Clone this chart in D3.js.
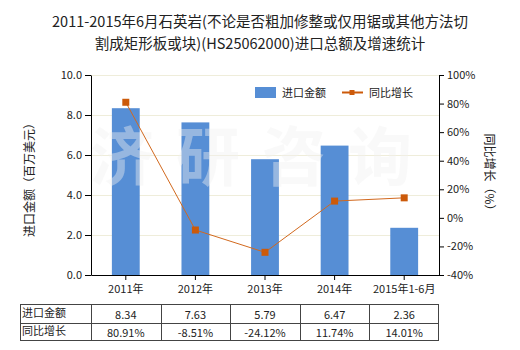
<!DOCTYPE html>
<html>
<head>
<meta charset="utf-8">
<script src="https://cdn.jsdelivr.net/npm/d3@7"></script>
<style>
  html, body { margin: 0; padding: 0; background: #fff; }
  svg { display: block; }
  text { font-family: "Microsoft YaHei", "Noto Sans CJK SC", sans-serif; fill: #222; }
</style>
</head>
<body>
<svg id="chart" width="520" height="350"></svg>
<script>
// Import value (million USD) and year-on-year growth (%) by period
const categories = ["2011年", "2012年", "2013年", "2014年", "2015年1-6月"];
const importValues = [8.34, 7.63, 5.79, 6.47, 2.36];
const growthRates = [80.91, -8.51, -24.12, 11.74, 14.01];
const leftTicks = [0, 2, 4, 6, 8, 10];
const rightTicks = [-40, -20, 0, 20, 40, 60, 80, 100];
const titleLines = [
  "2011-2015年6月石英岩(不论是否粗加修整或仅用锯或其他方法切",
  "割成矩形板或块)(HS25062000)进口总额及增速统计"
];
const seriesNames = ["进口金额", "同比增长"];
const leftAxisTitle = "进口金额（百万美元）";
const rightAxisTitle = "同比增长（%）";
const watermark = "济研咨询";

const svg = d3.select("#chart");
const plot = { left: 91, right: 439, top: 75, bottom: 275 };

const x = d3.scaleBand().domain(categories).range([plot.left, plot.right]).paddingInner(0).paddingOuter(0);
const yL = d3.scaleLinear().domain([0, 10]).range([plot.bottom, plot.top]);
const yR = d3.scaleLinear().domain([-40, 100]).range([plot.bottom, plot.top]);

const barColor = "#568ED5";
const lineColor = "#D2691E";
const markerColor = "#CC5A0A";

// Title
svg.selectAll("text.title").data(titleLines).enter().append("text")
  .attr("class", "title")
  .attr("x", 260).attr("y", (d, i) => 27 + i * 22)
  .attr("text-anchor", "middle")
  .style("font-size", "14.5px")
  .text(d => d);

// Gridlines
svg.append("g").selectAll("line").data(leftTicks.filter(d => d > 0)).enter().append("line")
  .attr("x1", plot.left).attr("x2", plot.right)
  .attr("y1", d => Math.round(yL(d)) + 0.5).attr("y2", d => Math.round(yL(d)) + 0.5)
  .attr("stroke", "#EFEDDA").attr("stroke-width", 1);

// Bars
const bw = x.bandwidth() * 0.4;
svg.append("g").selectAll("rect").data(importValues).enter().append("rect")
  .attr("x", (d, i) => x(categories[i]) + x.bandwidth() / 2 - bw / 2)
  .attr("width", bw)
  .attr("y", d => yL(d))
  .attr("height", d => plot.bottom - yL(d))
  .attr("fill", barColor);

// Watermark, clipped to the plot area
svg.append("clipPath").attr("id", "plotclip").append("rect")
  .attr("x", plot.left).attr("y", plot.top)
  .attr("width", plot.right - plot.left).attr("height", plot.bottom - plot.top);
svg.append("text")
  .attr("clip-path", "url(#plotclip)")
  .attr("x", 262).attr("y", 180)
  .attr("text-anchor", "middle")
  .style("font-size", "64px").style("font-weight", "bold")
  .style("letter-spacing", "22px")
  .style("fill", "#f0f0f0").style("fill-opacity", 0.42)
  .text(watermark);

// Axes
const axisL = d3.axisLeft(yL).tickValues(leftTicks).tickFormat(d3.format(".1f")).tickSize(6).tickSizeOuter(0);
const axisR = d3.axisRight(yR).tickValues(rightTicks).tickFormat(d => d + "%").tickSize(5).tickSizeOuter(0);
const axisB = d3.axisBottom(x).tickSize(5).tickSizeOuter(0);

function styleAxis(g) {
  g.select(".domain").attr("stroke", "#000");
  g.selectAll(".tick line").attr("stroke", "#000");
  g.selectAll("text").style("font-size", "11px").attr("fill", "#222")
    .style("font-family", "\"Microsoft YaHei\", \"Noto Sans CJK SC\", sans-serif");
}
svg.append("g").attr("transform", `translate(${plot.left},0)`).call(axisL).call(styleAxis);
svg.append("g").attr("transform", `translate(${plot.right},0)`).call(axisR).call(styleAxis);
svg.append("g").attr("transform", `translate(0,${plot.bottom})`).call(axisB).call(styleAxis)
  .selectAll("text").attr("dy", "0.9em");

// Growth line with square markers
const cx = c => x(c) + x.bandwidth() / 2;
const line = d3.line().x((d, i) => cx(categories[i])).y(d => yR(d));
svg.append("path").datum(growthRates)
  .attr("d", line).attr("fill", "none")
  .attr("stroke", lineColor).attr("stroke-width", 1);
svg.append("g").selectAll("rect").data(growthRates).enter().append("rect")
  .attr("x", (d, i) => cx(categories[i]) - 3.5)
  .attr("y", d => yR(d) - 3.5)
  .attr("width", 7).attr("height", 7)
  .attr("fill", markerColor);

// Axis titles
svg.append("text")
  .attr("transform", "translate(34,177) rotate(-90)")
  .attr("text-anchor", "middle")
  .style("font-size", "12px")
  .text(leftAxisTitle);
svg.append("text")
  .attr("transform", "translate(485,175) rotate(90)")
  .attr("text-anchor", "middle")
  .style("font-size", "12px")
  .text(rightAxisTitle);

// Legend
const lg = svg.append("g");
lg.append("rect").attr("x", 255).attr("y", 87).attr("width", 21).attr("height", 11).attr("fill", barColor);
lg.append("text").attr("x", 282).attr("y", 97).style("font-size", "11px").text(seriesNames[0]);
lg.append("line").attr("x1", 342).attr("x2", 363).attr("y1", 92.5).attr("y2", 92.5)
  .attr("stroke", markerColor).attr("stroke-width", 2);
lg.append("rect").attr("x", 349.5).attr("y", 90).attr("width", 5).attr("height", 5).attr("fill", markerColor);
lg.append("text").attr("x", 369).attr("y", 97).style("font-size", "11px").text(seriesNames[1]);

// Data table beneath the chart
const tbl = svg.append("g");
const tLeft = 20.5, tRight = 438.5, rowY = [304.5, 323.5, 340.5];
tbl.append("rect").attr("x", tLeft).attr("y", rowY[0])
  .attr("width", tRight - tLeft).attr("height", rowY[2] - rowY[0])
  .attr("fill", "none").attr("stroke", "#444");
tbl.append("line").attr("x1", tLeft).attr("x2", tRight).attr("y1", rowY[1]).attr("y2", rowY[1]).attr("stroke", "#444");
categories.forEach(c => {
  const xe = Math.round(x(c)) + 0.5;
  tbl.append("line").attr("x1", xe).attr("x2", xe).attr("y1", rowY[0]).attr("y2", rowY[2]).attr("stroke", "#444");
});
const rows = [
  { label: seriesNames[0], vals: importValues.map(v => v.toFixed(2)) },
  { label: seriesNames[1], vals: growthRates.map(v => v.toFixed(2) + "%") }
];
rows.forEach((r, ri) => {
  const ty = (rowY[ri] + rowY[ri + 1]) / 2 + 4;
  tbl.append("text").attr("x", 22).attr("y", ty - 1).style("font-size", "11px").text(r.label);
  r.vals.forEach((v, i) => {
    tbl.append("text").attr("x", cx(categories[i])).attr("y", ty + 1)
      .attr("text-anchor", "middle").style("font-size", "11px").text(v);
  });
});
</script>
</body>
</html>
